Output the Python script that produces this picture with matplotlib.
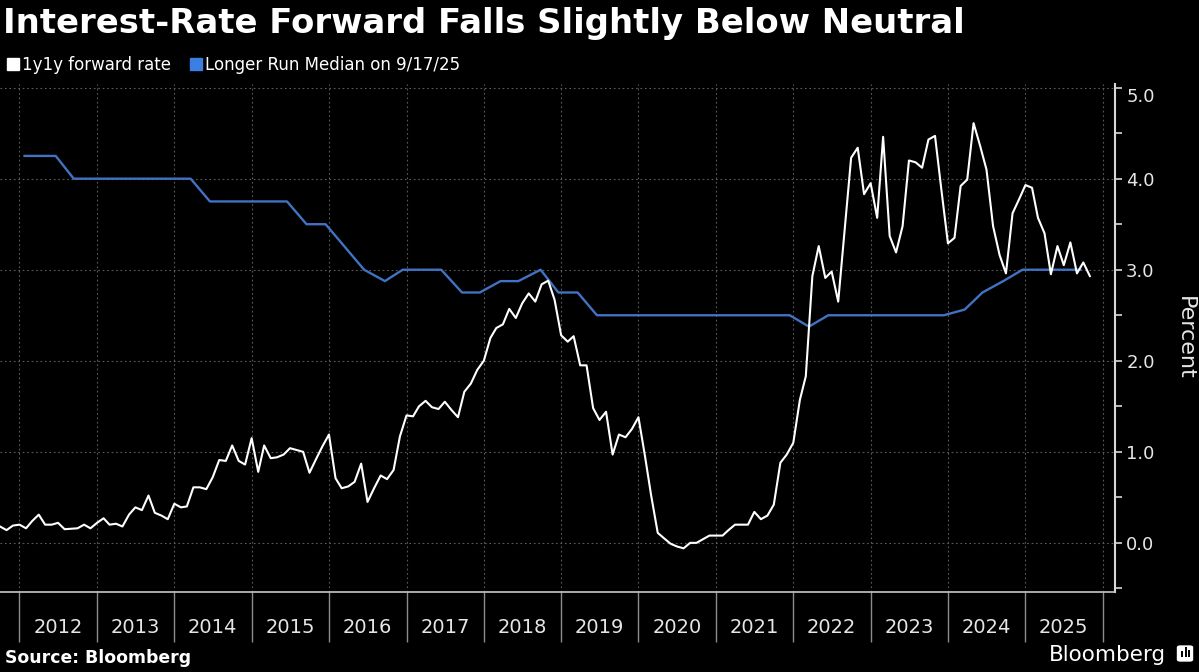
import matplotlib
matplotlib.use("Agg")
import matplotlib.pyplot as plt
import matplotlib.dates as mdates
from matplotlib.lines import Line2D
from matplotlib.patches import FancyBboxPatch, Rectangle
from matplotlib.ticker import MultipleLocator
import pandas as pd

# 1y1y forward rate, monthly values starting Oct 2011
fwd_start = "2011-10-01"
fwd_rate = [
    0.18, 0.14, 0.19,
    0.20, 0.16, 0.24, 0.31, 0.20, 0.20, 0.22, 0.15, 0.155, 0.16, 0.20, 0.16,  # 2012
    0.22, 0.27, 0.20, 0.21, 0.18, 0.31, 0.39, 0.36, 0.52, 0.33, 0.30, 0.26,   # 2013
    0.43, 0.39, 0.40, 0.61, 0.61, 0.59, 0.72, 0.91, 0.90, 1.07, 0.90, 0.86,   # 2014
    1.15, 0.78, 1.07, 0.93, 0.94, 0.97, 1.04, 1.02, 1.00, 0.77, 0.92, 1.06,   # 2015
    1.19, 0.71, 0.60, 0.62, 0.67, 0.87, 0.45, 0.60, 0.74, 0.70, 0.80, 1.17,   # 2016
    1.40, 1.39, 1.50, 1.56, 1.49, 1.47, 1.55, 1.46, 1.38, 1.66, 1.75, 1.90,   # 2017
    2.00, 2.25, 2.36, 2.40, 2.57, 2.47, 2.63, 2.74, 2.65, 2.84, 2.88, 2.67,   # 2018
    2.28, 2.21, 2.27, 1.95, 1.95, 1.48, 1.35, 1.44, 0.97, 1.19, 1.16, 1.25,   # 2019
    1.38, 0.95, 0.52, 0.11, 0.05, -0.01, -0.04, -0.06, 0.00, 0.00, 0.04, 0.08,  # 2020
    0.08, 0.08, 0.14, 0.20, 0.20, 0.20, 0.34, 0.26, 0.30, 0.42, 0.88, 0.97,   # 2021
    1.10, 1.57, 1.83, 2.93, 3.26, 2.91, 2.98, 2.65, 3.45, 4.23, 4.34, 3.83,   # 2022
    3.95, 3.57, 4.46, 3.37, 3.19, 3.48, 4.20, 4.18, 4.12, 4.43, 4.47, 3.88,   # 2023
    3.29, 3.35, 3.92, 3.99, 4.61, 4.36, 4.10, 3.48, 3.16, 2.96, 3.62, 3.77,   # 2024
    3.93, 3.90, 3.57, 3.40, 2.95, 3.26, 3.05, 3.30, 2.96, 3.08, 2.93,         # 2025
]

# FOMC longer-run median fed funds rate at each projection meeting
sep_dates = [
    "2012-01-25", "2012-04-25", "2012-06-20", "2012-09-13", "2012-12-12",
    "2013-03-20", "2013-06-19", "2013-09-18", "2013-12-18",
    "2014-03-19", "2014-06-18", "2014-09-17", "2014-12-17",
    "2015-03-18", "2015-06-17", "2015-09-17", "2015-12-16",
    "2016-03-16", "2016-06-15", "2016-09-21", "2016-12-14",
    "2017-03-15", "2017-06-14", "2017-09-20", "2017-12-13",
    "2018-03-21", "2018-06-13", "2018-09-26", "2018-12-19",
    "2019-03-20", "2019-06-19", "2019-09-18", "2019-12-11",
    "2020-06-10", "2020-09-16", "2020-12-16",
    "2021-03-17", "2021-06-16", "2021-09-22", "2021-12-15",
    "2022-03-16", "2022-06-15", "2022-09-21", "2022-12-14",
    "2023-03-22", "2023-06-14", "2023-09-20", "2023-12-13",
    "2024-03-20", "2024-06-12", "2024-09-18", "2024-12-18",
    "2025-03-19", "2025-06-18", "2025-09-17",
]
sep_median = [
    4.25, 4.25, 4.25, 4.0, 4.0,
    4.0, 4.0, 4.0, 4.0,
    4.0, 3.75, 3.75, 3.75,
    3.75, 3.75, 3.5, 3.5,
    3.25, 3.0, 2.875, 3.0,
    3.0, 3.0, 2.75, 2.75,
    2.875, 2.875, 3.0, 2.75,
    2.75, 2.5, 2.5, 2.5,
    2.5, 2.5, 2.5,
    2.5, 2.5, 2.5, 2.5,
    2.375, 2.5, 2.5, 2.5,
    2.5, 2.5, 2.5, 2.5,
    2.5625, 2.75, 2.875, 3.0,
    3.0, 3.0, 3.0,
]

years = list(range(2012, 2026))
y_ticks = [0, 1, 2, 3, 4, 5]
series_labels = ["1y1y forward rate", "Longer Run Median on 9/17/25"]

title = "Interest-Rate Forward Falls Slightly Below Neutral"
blue = "#4272c4"
legend_blue = "#3d7fe0"
grid_col = "#5c5c5c"

fig = plt.figure(figsize=(11.99, 6.72), dpi=100, facecolor="black")
ax = fig.add_axes([0.0, 0.119, 0.93, 0.756])
ax.set_facecolor("black")

fwd_dates = pd.date_range(fwd_start, periods=len(fwd_rate), freq="MS")
ax.plot(pd.to_datetime(sep_dates), sep_median, color=blue, lw=1.7, zorder=3)
ax.plot(fwd_dates, fwd_rate, color="white", lw=1.5, zorder=4)

ax.set_xlim(mdates.date2num(pd.Timestamp("2011-10-01")),
            mdates.date2num(pd.Timestamp("2026-02-28")))
ax.set_ylim(-0.54, 5.04)

# x axis: year boundaries as long ticks, labels centred in each year
bounds = [mdates.date2num(pd.Timestamp(f"{y}-01-01")) for y in years + [2026]]
mids = [mdates.date2num(pd.Timestamp(f"{y}-07-01")) for y in years]
ax.set_xticks(bounds)
ax.set_xticklabels([])
ax.set_xticks(mids, minor=True)
ax.set_xticklabels([str(y) for y in years], minor=True)
ax.tick_params(axis="x", which="major", length=36, width=1.0, color="#8c8c8c")
ax.tick_params(axis="x", which="minor", length=0, pad=19, labelsize=14,
               labelcolor="#e6e6e6")

# y axis on the right
ax.yaxis.tick_right()
ax.set_yticks(y_ticks)
ax.set_yticklabels([f"{v:.1f}" for v in y_ticks])
ax.yaxis.set_minor_locator(MultipleLocator(0.5))
ax.tick_params(axis="y", which="both", direction="out", length=5, width=1.2,
               color="#d8d8d8", labelsize=13, labelcolor="#e6e6e6", pad=3)
ax.yaxis.get_major_ticks()[-1].label2.set_verticalalignment("top")

ax.grid(True, which="major", color=grid_col, linestyle=(0, (1.5, 2.5)), linewidth=0.8)

for side in ["left", "top"]:
    ax.spines[side].set_visible(False)
ax.spines["right"].set_color("#d8d8d8")
ax.spines["right"].set_linewidth(1.5)
ax.spines["bottom"].set_color("#c8c8c8")
ax.spines["bottom"].set_linewidth(1.2)

fig.text(1185 / 1199, 0.497, "Percent", rotation=270, ha="center", va="center",
         fontsize=16, color="#e6e6e6")

# title and legend
fig.text(0.0025, 0.951, title, fontsize=24.4, fontweight="bold", color="white",
         va="baseline", ha="left")
handles = [Line2D([], [], marker="s", linestyle="none", markersize=8, color="white"),
           Line2D([], [], marker="s", linestyle="none", markersize=8, color=legend_blue)]
fig.legend(handles, series_labels, loc="center left", bbox_to_anchor=(7 / 1199, 0.903),
           ncol=2, frameon=False, fontsize=12, labelcolor="white", handlelength=0.7,
           handletextpad=0.2, columnspacing=1.15, borderpad=0, borderaxespad=0)

# footer
fig.text(5 / 1199, 1 - 663 / 672, "Source: Bloomberg", fontsize=12.4, fontweight="bold",
         color="white", va="baseline", ha="left")
fig.text(1049 / 1199, 1 - 661 / 672, "Bloomberg", fontsize=15.5, color="white",
         va="baseline", ha="left")
fig.add_artist(FancyBboxPatch((1178 / 1199, 1 - 661 / 672), 14 / 1199, 15 / 672,
                              boxstyle="round,pad=0.001,rounding_size=0.003",
                              transform=fig.transFigure, facecolor="white",
                              edgecolor="none"))
for bx, bh in [(1181, 6), (1184.5, 10), (1188, 7)]:
    fig.add_artist(Rectangle((bx / 1199, 1 - 657 / 672), 2 / 1199, bh / 672,
                             transform=fig.transFigure, facecolor="black",
                             edgecolor="none"))

fig.savefig("out.png", dpi=100, facecolor="black")
